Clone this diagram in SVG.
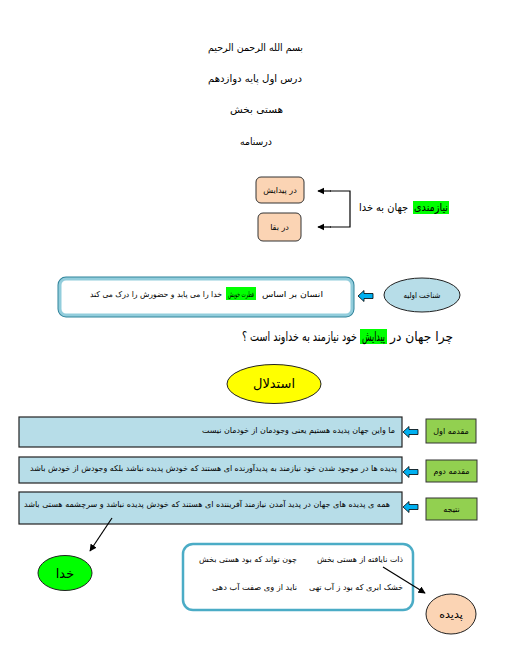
<svg xmlns="http://www.w3.org/2000/svg" width="510" height="660" viewBox="0 0 510 660">
<style>
text{font-family:"DejaVu Sans",sans-serif;fill:#000;text-anchor:middle;direction:rtl}
.t10{font-size:10px}
.t8{font-size:8px}
.t11{font-size:11px}
.t13{font-size:13px}
.q{font-size:9.3px}
.f{font-size:6px}
.peach{fill:#fbd4b4;stroke:#333;stroke-width:1}
.lb{fill:#b7dde8;stroke:#222;stroke-width:1.2}
.gl{fill:#92d050;stroke:#333;stroke-width:1}
.hl{fill:#00ff00}
.ln{stroke:#000;stroke-width:1.2;fill:none}
.ba{fill:#00b0f0;stroke:#000;stroke-width:0.8}
</style>
<defs>
<marker id="ah" viewBox="0 0 10 10" refX="9" refY="5" markerWidth="6" markerHeight="6" orient="auto">
<path d="M0,0 L10,5 L0,10 Z" fill="#000"/>
</marker>
<path id="blk" d="M0,0 L6,-5.5 L6,-2.5 L15,-2.5 L15,2.5 L6,2.5 L6,5.5 Z"/>
</defs>
<rect width="510" height="660" fill="#fff"/>

<g id="title">
<text class="t10" x="255.5" y="51" textLength="95" lengthAdjust="spacingAndGlyphs">بسم الله الرحمن الرحیم</text>
<text class="t10" x="255" y="82" textLength="94" lengthAdjust="spacingAndGlyphs">درس اول پایه دوازدهم</text>
<text class="t10" x="256.5" y="113" textLength="53" lengthAdjust="spacingAndGlyphs">هستی بخش</text>
<text class="t10" x="256" y="145" textLength="32" lengthAdjust="spacingAndGlyphs">درسنامه</text>
</g>

<g id="node-need">
<rect class="hl" x="413" y="201" width="36" height="13"/>
<text class="t11" x="431" y="211" textLength="34" lengthAdjust="spacingAndGlyphs">نیازمندی</text>
<text class="t11" x="383.5" y="211" textLength="49" lengthAdjust="spacingAndGlyphs">جهان به خدا</text>
</g>

<g id="node-paydayesh">
<rect class="peach" x="256" y="177" width="48" height="26" rx="5"/>
<text class="t8" x="280" y="193">در پیدایش</text>
</g>

<g id="node-baqa">
<rect class="peach" x="258" y="213" width="43" height="28" rx="5"/>
<text class="t8" x="279.5" y="230">در بقا</text>
</g>

<g id="node-fitrat">
<rect x="60" y="279" width="292" height="36" rx="6" fill="#fff" stroke="#31849b" stroke-width="5"/>
<rect x="60" y="279" width="292" height="36" rx="6" fill="#fff" stroke="#92cddc" stroke-width="3"/>
<rect class="hl" x="226" y="287" width="30" height="13"/>
<text class="f" transform="translate(292.5,297) scale(1,1.33)" x="0" y="0" textLength="61" lengthAdjust="spacingAndGlyphs">انسان بر اساس</text>
<text class="f" transform="translate(241,297) scale(1,1.33)" x="0" y="0" textLength="26" lengthAdjust="spacingAndGlyphs">فطرت خویش</text>
<text class="f" transform="translate(156,297) scale(1,1.33)" x="0" y="0" textLength="132" lengthAdjust="spacingAndGlyphs">خدا را می یابد و حضورش را درک می کند</text>
</g>

<g id="node-shenakht">
<ellipse cx="422" cy="295" rx="38" ry="17" fill="#b7dde8" stroke="#222" stroke-width="1"/>
<text class="t8" x="422" y="298" textLength="37" lengthAdjust="spacingAndGlyphs">شناخت اولیه</text>
</g>

<g id="question">
<rect class="hl" x="360" y="329" width="27" height="15"/>
<text class="q" transform="translate(421.5,341) scale(1,1.4)" x="0" y="0" textLength="63" lengthAdjust="spacingAndGlyphs">چرا جهان در</text>
<text class="q" transform="translate(373.5,341) scale(1,1.4)" x="0" y="0" textLength="23" lengthAdjust="spacingAndGlyphs">پیدایش</text>
<text class="q" transform="translate(299.5,341) scale(1,1.4)" x="0" y="0" textLength="115" lengthAdjust="spacingAndGlyphs">خود نیازمند به خداوند است ؟</text>
</g>

<g id="node-estedlal">
<ellipse cx="274" cy="384" rx="47" ry="19.5" fill="#ffff00" stroke="#222" stroke-width="1"/>
<text class="t13" x="274" y="388">استدلال</text>
</g>

<g id="node-p1">
<rect class="lb" x="19" y="417" width="383" height="30"/>
<text class="t8" x="298.5" y="433" textLength="193" lengthAdjust="spacingAndGlyphs">ما واین جهان پدیده هستیم  یعنی وجودمان از خودمان نیست</text>
</g>
<g id="label-p1">
<rect class="gl" x="426" y="419" width="50" height="24"/>
<text class="t8" x="451" y="434">مقدمه اول</text>
</g>

<g id="node-p2">
<rect class="lb" x="19" y="457" width="383" height="26"/>
<text class="t8" x="213.5" y="471" textLength="367" lengthAdjust="spacingAndGlyphs">پدیده ها در موجود شدن خود نیازمند به پدیدآورنده ای هستند که خودش پدیده نباشد بلکه وجودش از خودش باشد</text>
</g>
<g id="label-p2">
<rect class="gl" x="426" y="460" width="51" height="22"/>
<text class="t8" x="451.5" y="474">مقدمه دوم</text>
</g>

<g id="node-result">
<rect class="lb" x="19" y="492" width="383" height="32"/>
<text class="t8" x="207" y="507" textLength="366" lengthAdjust="spacingAndGlyphs">همه ی پدیده های جهان در پدید آمدن نیازمند آفریننده ای هستند که خودش پدیده نباشد و سرچشمه هستی باشد</text>
</g>
<g id="label-result">
<rect class="gl" x="426" y="498" width="51" height="22"/>
<text class="t8" x="451.5" y="512">نتیجه</text>
</g>

<g id="node-khoda">
<ellipse cx="65" cy="573" rx="27" ry="17.5" fill="#00ff00" stroke="#222" stroke-width="1"/>
<text class="t13" x="65" y="578">خدا</text>
</g>

<g id="node-poem">
<rect x="183" y="544" width="230" height="66" rx="10" fill="#fff" stroke="#4bacc6" stroke-width="2.5"/>
<text class="t8" x="360" y="562" textLength="86" lengthAdjust="spacingAndGlyphs">ذات نایافته از هستی بخش</text>
<text class="t8" x="248" y="562" textLength="98" lengthAdjust="spacingAndGlyphs">چون تواند که بود هستی بخش</text>
<text class="t8" x="356" y="590" textLength="94" lengthAdjust="spacingAndGlyphs">خشک ابری که بود ز آب تهی</text>
<text class="t8" x="254.5" y="590" textLength="85" lengthAdjust="spacingAndGlyphs">ناید از وی صفت آب دهی</text>
</g>

<g id="node-padide">
<ellipse cx="451" cy="614" rx="25" ry="20" fill="#fbd4b4" stroke="#222" stroke-width="1"/>
<text class="t11" x="451" y="618">پدیده</text>
</g>

<g id="connectors">
<polyline class="ln" points="330,191 350,191 350,227 330,227"/>
<line class="ln" x1="331" y1="191" x2="318" y2="191" marker-end="url(#ah)"/>
<line class="ln" x1="331" y1="227" x2="318" y2="227" marker-end="url(#ah)"/>
<use href="#blk" class="ba" transform="translate(358,296)"/>
<use href="#blk" class="ba" transform="translate(403,432)"/>
<use href="#blk" class="ba" transform="translate(403,472)"/>
<use href="#blk" class="ba" transform="translate(403,507)"/>
<line class="ln" x1="112" y1="518" x2="90" y2="551" marker-end="url(#ah)"/>
<line class="ln" x1="383" y1="567" x2="425" y2="593" marker-end="url(#ah)"/>
</g>
</svg>
